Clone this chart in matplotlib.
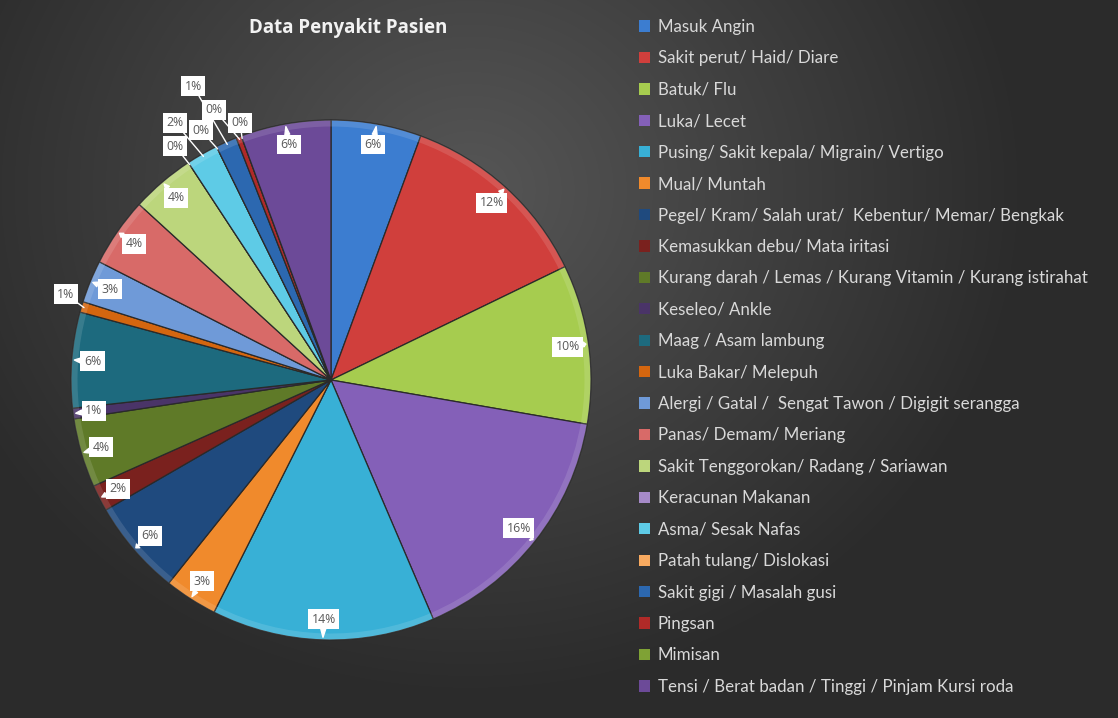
import matplotlib.pyplot as plt
import numpy as np
from matplotlib.patches import Patch

# data (patient counts per complaint)
categories = [
    'Masuk Angin', 'Sakit perut/ Haid/ Diare', 'Batuk/ Flu', 'Luka/ Lecet',
    'Pusing/ Sakit kepala/ Migrain/ Vertigo', 'Mual/ Muntah',
    'Pegel/ Kram/ Salah urat/  Kebentur/ Memar/ Bengkak',
    'Kemasukkan debu/ Mata iritasi',
    'Kurang darah / Lemas / Kurang Vitamin / Kurang istirahat',
    'Keseleo/ Ankle', 'Maag / Asam lambung', 'Luka Bakar/ Melepuh',
    'Alergi / Gatal /  Sengat Tawon / Digigit serangga',
    'Panas/ Demam/ Meriang', 'Sakit Tenggorokan/ Radang / Sariawan',
    'Keracunan Makanan', 'Asma/ Sesak Nafas', 'Patah tulang/ Dislokasi',
    'Sakit gigi / Masalah gusi', 'Pingsan', 'Mimisan',
    'Tensi / Berat badan / Tinggi / Pinjam Kursi roda',
]
counts = [17, 37, 30, 48, 42, 10, 18, 5, 13, 2, 18, 2, 8, 13, 12, 0, 6, 0, 4, 1, 0, 17]

colors = ['#3c7dd0', '#d03f3c', '#a6cc4f', '#8460b8', '#38b0d6', '#f08a2c',
          '#1f4a7e', '#7a211e', '#5f7a28', '#4a3468', '#1d6a7e', '#d4660f',
          '#6f9ad8', '#d86a68', '#bcd67c', '#a68ac8', '#5ecbe6', '#f8aa60',
          '#2c68b0', '#b02a28', '#7fa235', '#6c4a98']

# label placement for the crowded slices (axes units, radius = 1)
outside = {11: (-1.02, 0.33), 15: (-0.60, 0.90), 16: (-0.60, 0.99),
           17: (-0.50, 0.96), 18: (-0.53, 1.13), 19: (-0.45, 1.04),
           20: (-0.35, 0.99)}

W, H = 1118, 718
fig = plt.figure(figsize=(W / 100, H / 100), dpi=100)

# background gradient
bg = fig.add_axes([0, 0, 1, 1])
yy, xx = np.mgrid[0:H, 0:W]
d = np.hypot(xx - 470, (yy - 190) * 1.1)
v = 0x56 - (0x56 - 0x2b) * np.clip(d / 560, 0, 1)
img = np.dstack([v, v, v]) / 255.0
bg.imshow(img, aspect='auto', extent=[0, 1, 0, 1])
bg.axis('off')

# pie axes: radius 260 px centered at (331, 380)
R, cx, cy = 260, 331, 380
span = 1.3
w = 2 * span * R
ax = fig.add_axes([(cx - w / 2) / W, (H - cy - w / 2) / H, w / W, w / H])

wedges, _ = ax.pie(counts, colors=colors, startangle=90, counterclock=False,
                   radius=1, wedgeprops=dict(edgecolor='#2a2a2a', linewidth=0.9))
# soft rim highlight
ax.pie(counts, colors=[(1, 1, 1, 0.12)] * len(counts), startangle=90,
       counterclock=False, radius=1,
       wedgeprops=dict(width=0.025, edgecolor='none'))
ax.set_xlim(-span, span)
ax.set_ylim(-span, span)
ax.axis('off')

total = sum(counts)
for i, wdg in enumerate(wedges):
    ang = np.deg2rad((wdg.theta1 + wdg.theta2) / 2)
    edge = (np.cos(ang), np.sin(ang))
    txt = f'{round(100 * counts[i] / total):.0f}%'
    box = dict(boxstyle='square,pad=0.28', fc='white', ec='none')
    if i in outside:
        ax.annotate(txt, xy=(0.99 * edge[0], 0.99 * edge[1]), xytext=outside[i],
                    ha='center', va='center', fontsize=8.8, color='#595959',
                    fontfamily='Open Sans', bbox=box,
                    arrowprops=dict(arrowstyle='-', color='white', lw=1,
                                    shrinkA=0, shrinkB=0))
    else:
        pos = (0.92 * edge[0], 0.92 * edge[1])
        ax.annotate(txt, xy=(0.99 * edge[0], 0.99 * edge[1]), xytext=pos,
                    ha='center', va='center', fontsize=8.8, color='#595959',
                    fontfamily='Open Sans', bbox=box,
                    arrowprops=dict(arrowstyle='wedge,tail_width=0.4',
                                    color='white', shrinkA=0, shrinkB=0))

fig.text(348 / W, 1 - 28 / H, 'Data Penyakit Pasien', ha='center', va='center',
         fontsize=13.5, fontweight='bold', color='#f2f2f2', fontfamily='Open Sans')

handles = [Patch(facecolor=c, edgecolor='none') for c in colors]
leg = fig.legend(handles, categories, loc='upper left',
                 bbox_to_anchor=(639 / W, 1 - 19 / H), frameon=False,
                 handlelength=0.65, handleheight=0.65, handletextpad=0.45,
                 labelspacing=0.91, borderpad=0, borderaxespad=0,
                 prop=dict(family='Lato', size=12.2))
for t in leg.get_texts():
    t.set_color('#d9d9d9')

fig.savefig('out.png', dpi=100)
